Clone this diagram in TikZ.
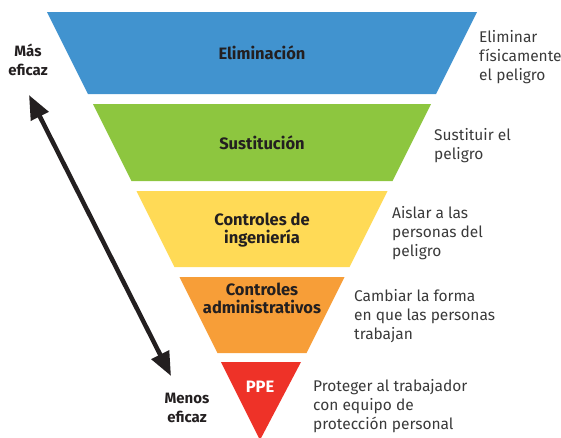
\documentclass[tikz,border=0pt]{standalone}
\usepackage{fontspec}
\setmainfont{Fira Sans}
\usepackage{xcolor}
\usetikzlibrary{arrows.meta}

\definecolor{elimblue}{HTML}{4193CF}
\definecolor{sustgreen}{HTML}{8DC63F}
\definecolor{ingyellow}{HTML}{FFDA56}
\definecolor{admorange}{HTML}{F79E38}
\definecolor{ppered}{HTML}{EE3228}
\definecolor{ink}{HTML}{231F20}
\definecolor{greyink}{HTML}{3A3A3A}

\begin{document}
\begin{tikzpicture}[x=1pt, y=-1pt, >={Triangle[length=24pt,width=19pt]},
  every node/.style={inner sep=0pt},
  level/.style={align=center, text=ink, font=\bfseries\fontsize{16.5}{18}\selectfont},
  note/.style={anchor=west, align=left, text=greyink, font=\fontsize{15.5}{19}\selectfont},
  side/.style={align=center, text=ink, font=\bfseries\fontsize{15}{18.5}\selectfont}]
      % funnel: left edge at (\xl, \ytop), slope 1/2
      \def\xl{47}
      \def\xr{477}
      \def\ytop{12}
      \useasboundingbox (0, 0) rectangle (561, 437);
       \fill [elimblue] (\xl, 12) -- (\xr, 12) -- (\xr - 41, 94) -- (\xl + 41, 94) -- cycle;
       \fill [sustgreen] (\xl + 46, 104) -- (\xr - 46, 104) -- (\xr - 84.5, 181) -- (\xl + 84.5, 181) -- cycle;
       \fill [ingyellow] (\xl + 89.5, 191) -- (\xr - 89.5, 191) -- (\xr - 127.5, 267) -- (\xl + 127.5, 267) -- cycle;
       \fill [admorange] (\xl + 132.5, 277) -- (\xr - 132.5, 277) -- (\xr - 170.5, 353) -- (\xl + 170.5, 353) -- cycle;
       \fill [ppered] (\xl + 174, 362) -- (\xr - 176, 362) -- (260, 440) -- cycle;

       \node [level] (elim) at (262, 53) {Eliminación};
       \node [level] (sust) at (262, 143) {Sustitución};
       \node [level] (ing) at (262, 230) {Controles de\\ingeniería};
       \node [level] (adm) at (262, 298) {Controles\\administrativos};
       \node [level, text=white] (ppe) at (260, 387) {PPE};

       \node [note] (elimnote) at (479, 57) {Eliminar\\físicamente\\el peligro};
       \node [note] (sustnote) at (434, 146) {Sustituir el\\peligro};
       \node [note] (ingnote) at (392, 233) {Aislar a las\\personas del\\peligro};
       \node [note] (admnote) at (354, 316) {Cambiar la forma\\en que las personas\\trabajan};
       \node [note] (ppenote) at (313, 406) {Proteger al trabajador\\con equipo de\\protección personal};

       \node [side] (mas) at (28, 60) {Más\\eficaz};
       \node [side] (menos) at (187, 408) {Menos\\eficaz};
       \coordinate (hi) at (29, 95);
       \coordinate (lo) at (171, 376);
       \draw [<->, line width=4.5pt, ink] (hi) -- (lo);
      \end{tikzpicture}
\end{document}
